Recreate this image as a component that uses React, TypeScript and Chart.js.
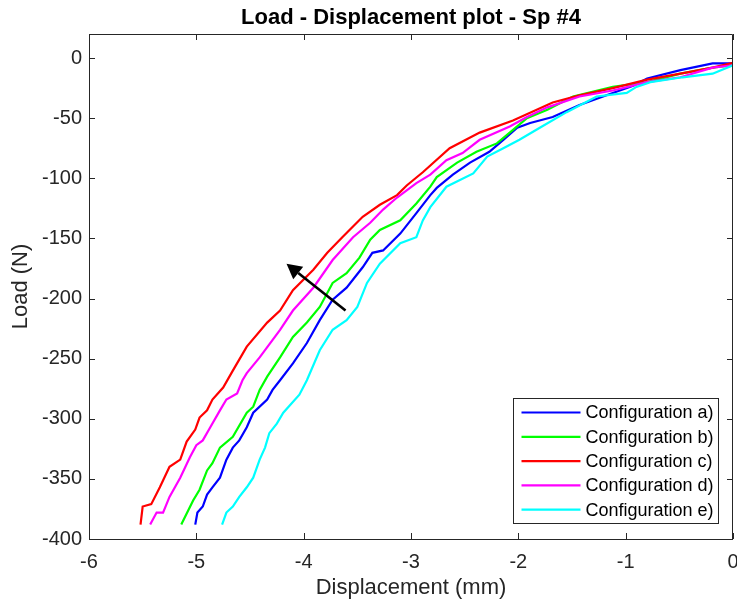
import React, { useEffect, useRef } from 'react';
import { Chart, registerables } from 'chart.js';

Chart.register(...registerables);

const TITLE = 'Load - Displacement plot - Sp #4';
const X_LABEL = 'Displacement (mm)';
const Y_LABEL = 'Load (N)';
const X_TICKS = [-6, -5, -4, -3, -2, -1, 0];
const Y_TICKS = [-400, -350, -300, -250, -200, -150, -100, -50, 0];
const SERIES_LABELS = ['Configuration a)', 'Configuration b)', 'Configuration c)', 'Configuration d)', 'Configuration e)'];
const SERIES_COLORS = ['#0000ff', '#00ff00', '#ff0000', '#ff00ff', '#00ffff'];

const dispA = [-5.01, -4.99, -4.94, -4.90, -4.85, -4.78, -4.72, -4.66, -4.60, -4.53, -4.47, -4.34, -4.29, -4.22, -4.10, -3.97, -3.85, -3.73, -3.60, -3.45, -3.36, -3.26, -3.10, -2.95, -2.82, -2.76, -2.61, -2.45, -2.27, -2.14, -2.01, -1.89, -1.68, -1.43, -1.12, -0.93, -0.80, -0.49, -0.19, 0];
const loadA = [-388, -378, -373, -363, -357, -349, -334, -324, -318, -307, -295, -284, -276, -268, -254, -237, -218, -201, -191, -174, -162, -160, -146, -129, -114, -108, -97, -87, -78, -68, -58, -54, -49, -39, -29, -23, -17, -10, -4.5, -4.5];

const dispB = [-5.14, -5.13, -5.03, -4.97, -4.90, -4.85, -4.78, -4.66, -4.53, -4.47, -4.41, -4.34, -4.22, -4.10, -3.97, -3.85, -3.73, -3.60, -3.48, -3.38, -3.29, -3.10, -2.95, -2.82, -2.76, -2.57, -2.39, -2.20, -2.08, -1.92, -1.73, -1.49, -1.12, -0.80, -0.49, -0.19, 0];
const loadB = [-388, -386, -368, -359, -343, -337, -324, -315, -295, -290, -276, -265, -249, -232, -220, -207, -187, -179, -166, -151, -143, -135, -121, -107, -99, -87, -78, -71, -62, -50, -43, -32, -24, -20, -13, -8, -6];

const dispC = [-5.52, -5.50, -5.42, -5.34, -5.25, -5.15, -5.09, -5.01, -4.97, -4.90, -4.85, -4.75, -4.66, -4.53, -4.34, -4.22, -4.10, -3.91, -3.78, -3.64, -3.45, -3.29, -3.13, -3.04, -2.89, -2.64, -2.36, -2.05, -1.68, -1.43, -1.12, -0.80, -0.49, -0.19, 0];
const loadC = [-388, -373, -371, -357, -340, -334, -319, -309, -299, -293, -284, -274, -260, -240, -220, -210, -193, -176, -162, -149, -132, -122, -114, -106, -95, -75, -62, -52, -37, -31, -25, -18, -13, -8, -4];

const dispD = [-5.43, -5.37, -5.31, -5.25, -5.15, -5.06, -5.00, -4.94, -4.87, -4.78, -4.72, -4.62, -4.57, -4.53, -4.41, -4.22, -4.10, -3.91, -3.73, -3.54, -3.38, -3.26, -3.13, -2.95, -2.82, -2.67, -2.52, -2.36, -2.08, -1.92, -1.73, -1.43, -1.12, -0.80, -0.49, -0.19, 0];
const loadD = [-388, -378, -378, -365, -349, -332, -322, -318, -307, -293, -284, -279, -268, -262, -249, -226, -210, -191, -168, -149, -137, -126, -116, -104, -97, -85, -79, -68, -57, -49, -41, -32, -27, -20, -16, -8, -6];

const dispE = [-4.76, -4.72, -4.66, -4.60, -4.53, -4.47, -4.41, -4.36, -4.32, -4.25, -4.19, -4.13, -4.04, -3.97, -3.85, -3.73, -3.60, -3.50, -3.41, -3.29, -3.10, -2.95, -2.89, -2.82, -2.67, -2.42, -2.29, -2.14, -1.99, -1.80, -1.55, -1.27, -0.99, -0.90, -0.77, -0.47, -0.19, 0];
const loadE = [-388, -378, -373, -365, -357, -349, -334, -324, -312, -304, -295, -289, -280, -268, -243, -226, -218, -207, -187, -171, -154, -149, -135, -124, -107, -96, -82, -75, -68, -58, -45, -32, -29, -24, -20, -16, -13, -6];

const ARROW_TAIL = [-3.61, -210];
const ARROW_HEAD = [-4.16, -171];

const SERIES_X = [dispA, dispB, dispC, dispD, dispE];
const SERIES_Y = [loadA, loadB, loadC, loadD, loadE];

const FONT = '"Liberation Sans", Arial, Helvetica, sans-serif';
const AXIS_COLOR = '#262626';

const framePlugin = {
  id: 'matlabFrame',
  afterDatasetsDraw(chart: any) {
    const { ctx, chartArea: a, scales } = chart;
    const xs = scales.x;
    const ys = scales.y;
    ctx.save();
    ctx.strokeStyle = AXIS_COLOR;
    ctx.lineWidth = 1;
    ctx.beginPath();
    ctx.rect(Math.round(a.left) + 0.5, Math.round(a.top) + 0.5, Math.round(a.right - a.left) - 1, Math.round(a.bottom - a.top));
    ctx.stroke();
    const tl = 6;
    ctx.beginPath();
    X_TICKS.forEach((v) => {
      const px = Math.round(xs.getPixelForValue(v)) + 0.5;
      ctx.moveTo(px, a.bottom);
      ctx.lineTo(px, a.bottom - tl);
      ctx.moveTo(px, a.top);
      ctx.lineTo(px, a.top + tl);
    });
    Y_TICKS.forEach((v) => {
      const py = Math.round(ys.getPixelForValue(v)) + 0.5;
      ctx.moveTo(a.left, py);
      ctx.lineTo(a.left + tl, py);
      ctx.moveTo(a.right, py);
      ctx.lineTo(a.right - tl, py);
    });
    ctx.stroke();

    // arrow
    const x0 = xs.getPixelForValue(ARROW_TAIL[0]);
    const y0 = ys.getPixelForValue(ARROW_TAIL[1]);
    const x1 = xs.getPixelForValue(ARROW_HEAD[0]);
    const y1 = ys.getPixelForValue(ARROW_HEAD[1]);
    const ang = Math.atan2(y1 - y0, x1 - x0);
    const hl = 15;
    const hw = 8;
    const bx = x1 - hl * Math.cos(ang);
    const by = y1 - hl * Math.sin(ang);
    ctx.strokeStyle = '#000000';
    ctx.fillStyle = '#000000';
    ctx.lineWidth = 2.6;
    ctx.beginPath();
    ctx.moveTo(x0, y0);
    ctx.lineTo(bx, by);
    ctx.stroke();
    ctx.beginPath();
    ctx.moveTo(x1, y1);
    ctx.lineTo(bx + hw * Math.sin(ang), by - hw * Math.cos(ang));
    ctx.lineTo(bx - hw * Math.sin(ang), by + hw * Math.cos(ang));
    ctx.closePath();
    ctx.fill();

    // legend
    const bw = 205;
    const bh = 125;
    const lx = Math.round(a.right - 15 - bw) + 0.5;
    const ly = Math.round(a.bottom - 16 - bh) + 0.5;
    ctx.fillStyle = '#ffffff';
    ctx.fillRect(lx, ly, bw, bh);
    ctx.strokeStyle = AXIS_COLOR;
    ctx.lineWidth = 1;
    ctx.strokeRect(lx, ly, bw, bh);
    ctx.font = '18px ' + FONT;
    ctx.textBaseline = 'middle';
    ctx.textAlign = 'left';
    chart.data.datasets.forEach((ds: any, i: number) => {
      const ey = ly + 14 + i * 24.3;
      ctx.strokeStyle = ds.borderColor;
      ctx.lineWidth = 2.2;
      ctx.beginPath();
      ctx.moveTo(lx + 8, ey);
      ctx.lineTo(lx + 67, ey);
      ctx.stroke();
      ctx.fillStyle = '#000000';
      ctx.fillText(ds.label, lx + 72, ey + 1);
    });

    // title
    ctx.fillStyle = '#000000';
    ctx.font = 'bold 22px ' + FONT;
    ctx.textAlign = 'center';
    ctx.textBaseline = 'middle';
    ctx.fillText(TITLE, (a.left + a.right) / 2, 18);
    ctx.restore();
  },
};

export default function App() {
  const ref = useRef<HTMLCanvasElement | null>(null);
  useEffect(() => {
    if (!ref.current) return;
    const datasets = SERIES_LABELS.map((label, i) => ({
      label,
      data: SERIES_X[i].map((x, j) => ({ x, y: SERIES_Y[i][j] })),
      borderColor: SERIES_COLORS[i],
      backgroundColor: SERIES_COLORS[i],
      borderWidth: 2.2,
      pointRadius: 0,
      tension: 0,
      fill: false,
      order: SERIES_LABELS.length - i,
    }));
    const chart = new Chart(ref.current, {
      type: 'line',
      data: { datasets },
      options: {
        animation: false,
        responsive: false,
        devicePixelRatio: 1,
        layout: { padding: { left: 0, right: 4, top: 34, bottom: 0 } },
        plugins: {
          legend: { display: false },
          title: { display: false },
          tooltip: { enabled: false },
        },
        scales: {
          x: {
            type: 'linear',
            min: -6,
            max: 0,
            grid: { display: false, drawTicks: false },
            border: { display: false },
            afterBuildTicks: (s: any) => { s.ticks = X_TICKS.map((v) => ({ value: v })); },
            afterFit: (s: any) => { s.height = 64; s.paddingRight = 0; s.paddingLeft = 0; },
            ticks: {
              color: AXIS_COLOR,
              font: { family: FONT, size: 20 },
              padding: 11,
              maxRotation: 0,
              autoSkip: false,
              callback: (v: any) => String(v),
            },
            title: {
              display: true,
              text: X_LABEL,
              color: AXIS_COLOR,
              font: { family: FONT, size: 22 },
              padding: { top: 0, bottom: 2 },
            },
          },
          y: {
            type: 'linear',
            min: -400,
            max: 20,
            grid: { display: false, drawTicks: false },
            border: { display: false },
            afterBuildTicks: (s: any) => { s.ticks = Y_TICKS.map((v) => ({ value: v })); },
            afterFit: (s: any) => { s.width = 89; s.paddingTop = 0; s.paddingBottom = 0; },
            ticks: {
              color: AXIS_COLOR,
              font: { family: FONT, size: 20 },
              padding: 7,
              autoSkip: false,
              callback: (v: any) => String(v),
            },
            title: {
              display: true,
              text: Y_LABEL,
              color: AXIS_COLOR,
              font: { family: FONT, size: 22 },
              padding: { top: 8, bottom: 0 },
            },
          },
        },
      },
      plugins: [framePlugin],
    });
    return () => chart.destroy();
  }, []);
  return (
    <div style={{ position: 'absolute', left: 0, top: 0, width: 737, height: 603, background: '#ffffff' }}>
      <canvas ref={ref} width={737} height={603} style={{ display: 'block' }} />
    </div>
  );
}
